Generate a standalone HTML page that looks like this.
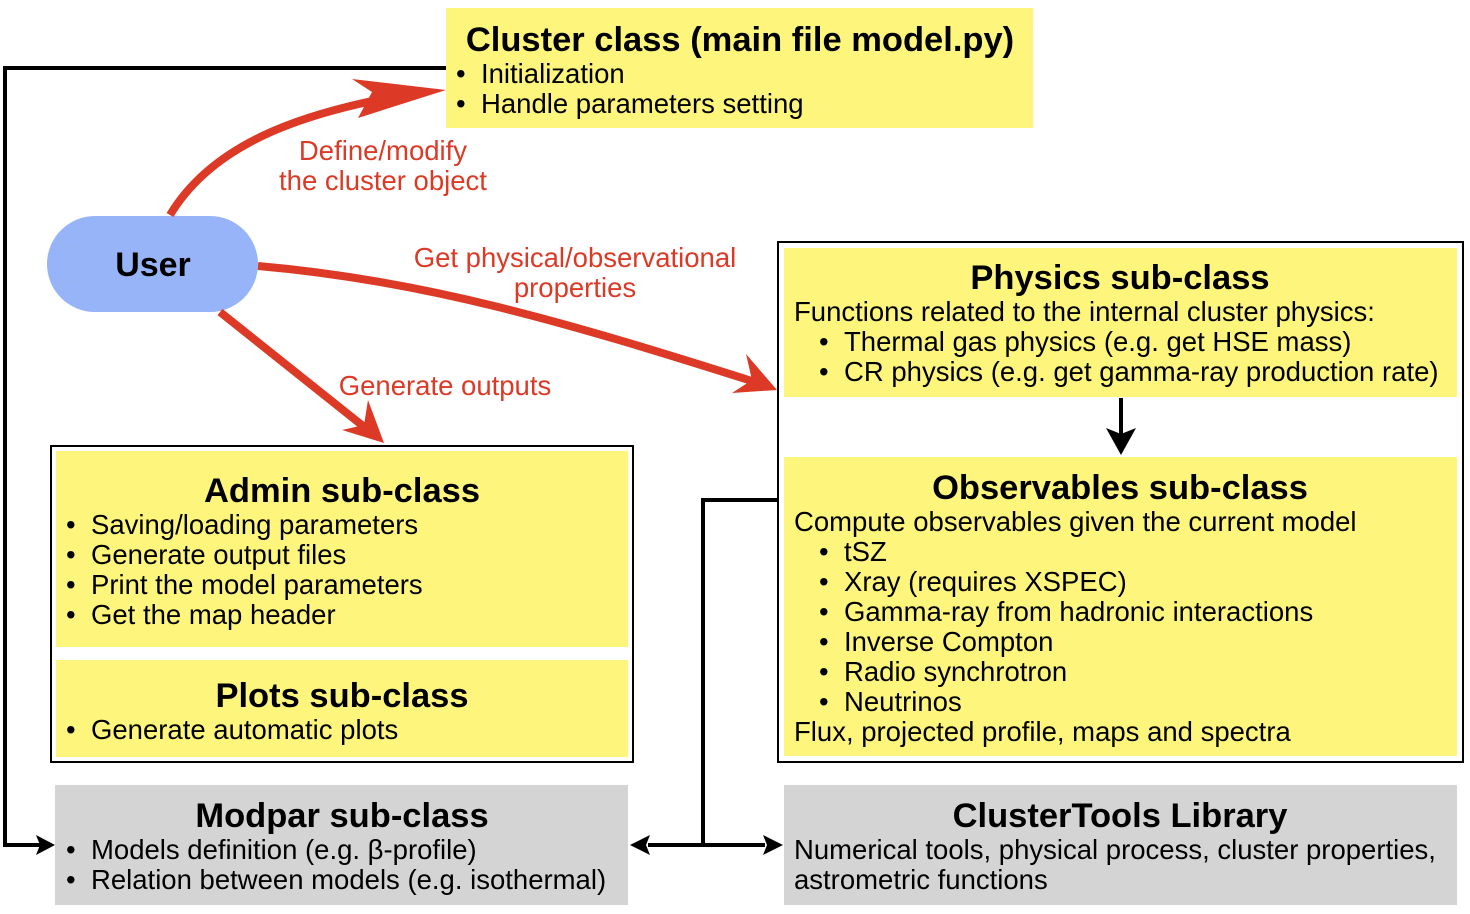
<!DOCTYPE html>
<html><head><meta charset="utf-8"><style>
html,body{margin:0;padding:0;background:#fff;}
svg{display:block;font-family:"Liberation Sans",Helvetica,Arial,sans-serif;}
.t{font-weight:bold;font-size:34.5px;fill:#000;text-anchor:middle}
.b{font-size:27.5px;fill:#000}
.r{font-size:27.5px;fill:#DC3A26;text-anchor:middle}
</style></head><body>
<svg width="1470" height="914" viewBox="0 0 1470 914">
<polyline points="446,68 5,68 5,845 40,845" fill="none" stroke="#000" stroke-width="4"/>
<polygon points="55,845 36,835 40,845 36,855" fill="#000"/>
<rect x="446" y="8" width="587" height="120" fill="#FEF67C"/>
<text class="t" x="740" y="51">Cluster class (main file model.py)</text>
<text class="b" x="456" y="83">•</text><text class="b" x="481" y="83">Initialization</text>
<text class="b" x="456" y="113">•</text><text class="b" x="481" y="113">Handle parameters setting</text>
<rect x="47" y="216" width="211" height="96" rx="48" fill="#98B4F8"/>
<text x="153" y="276" font-size="34" font-weight="bold" text-anchor="middle">User</text>
<path d="M170,215 C215,140 310,110 420,92" fill="none" stroke="#DC3A26" stroke-width="8"/>
<polygon points="446,90 352,79 372,92 358,118" fill="#DC3A26"/>
<text class="r" x="383" y="160">Define/modify</text>
<text class="r" x="383" y="190">the cluster object</text>
<path d="M258,266 C420,280 560,320 755,382" fill="none" stroke="#DC3A26" stroke-width="8"/>
<polygon points="777,390 746,354 752,380 732,393" fill="#DC3A26"/>
<text class="r" x="575" y="267">Get physical/observational</text>
<text class="r" x="575" y="297">properties</text>
<line x1="220" y1="312" x2="368" y2="430" stroke="#DC3A26" stroke-width="8"/>
<polygon points="384,443 368,400 364,425 342,430" fill="#DC3A26"/>
<text class="r" x="445" y="395">Generate outputs</text>
<rect x="51" y="446" width="582" height="316" fill="none" stroke="#000" stroke-width="2"/>
<rect x="56" y="451" width="572" height="196" fill="#FEF67C"/>
<text class="t" x="342" y="502">Admin sub-class</text>
<g class="b">
<text class="b" x="66" y="534">•</text><text class="b" x="91" y="534">Saving/loading parameters</text>
<text class="b" x="66" y="564">•</text><text class="b" x="91" y="564">Generate output files</text>
<text class="b" x="66" y="594">•</text><text class="b" x="91" y="594">Print the model parameters</text>
<text class="b" x="66" y="624">•</text><text class="b" x="91" y="624">Get the map header</text>
</g>
<rect x="56" y="660" width="572" height="97" fill="#FEF67C"/>
<text class="t" x="342" y="707">Plots sub-class</text>
<text class="b" x="66" y="739">•</text><text class="b" x="91" y="739">Generate automatic plots</text>
<rect x="778" y="242" width="685" height="520" fill="none" stroke="#000" stroke-width="2"/>
<rect x="784" y="248" width="673" height="149" fill="#FEF67C"/>
<text class="t" x="1120" y="289">Physics sub-class</text>
<text class="b" x="794" y="321">Functions related to the internal cluster physics:</text>
<text class="b" x="819" y="351">•</text><text class="b" x="844" y="351">Thermal gas physics (e.g. get HSE mass)</text>
<text class="b" x="819" y="381">•</text><text class="b" x="844" y="381">CR physics (e.g. get gamma-ray production rate)</text>
<line x1="1121" y1="398" x2="1121" y2="435" stroke="#000" stroke-width="4"/>
<polygon points="1121,455 1106,428 1121,434 1136,428" fill="#000"/>
<rect x="784" y="457" width="673" height="299" fill="#FEF67C"/>
<text class="t" x="1120" y="499">Observables sub-class</text>
<text class="b" x="794" y="531">Compute observables given the current model</text>
<text class="b" x="819" y="561">•</text><text class="b" x="844" y="561">tSZ</text>
<text class="b" x="819" y="591">•</text><text class="b" x="844" y="591">Xray (requires XSPEC)</text>
<text class="b" x="819" y="621">•</text><text class="b" x="844" y="621">Gamma-ray from hadronic interactions</text>
<text class="b" x="819" y="651">•</text><text class="b" x="844" y="651">Inverse Compton</text>
<text class="b" x="819" y="681">•</text><text class="b" x="844" y="681">Radio synchrotron</text>
<text class="b" x="819" y="711">•</text><text class="b" x="844" y="711">Neutrinos</text>
<text class="b" x="794" y="741">Flux, projected profile, maps and spectra</text>
<polyline points="778,500 703,500 703,845" fill="none" stroke="#000" stroke-width="4"/>
<line x1="648" y1="845" x2="765" y2="845" stroke="#000" stroke-width="4"/>
<polygon points="630,845 650,835 646,845 650,855" fill="#000"/>
<polygon points="783,845 763,835 767,845 763,855" fill="#000"/>
<rect x="55" y="785" width="573" height="120" fill="#D4D4D4"/>
<text class="t" x="342" y="827">Modpar sub-class</text>
<text class="b" x="66" y="859">•</text><text class="b" x="91" y="859">Models definition (e.g. β-profile)</text>
<text class="b" x="66" y="889">•</text><text class="b" x="91" y="889">Relation between models (e.g. isothermal)</text>
<rect x="784" y="785" width="673" height="120" fill="#D4D4D4"/>
<text class="t" x="1120" y="827">ClusterTools Library</text>
<text class="b" x="794" y="859">Numerical tools, physical process, cluster properties,</text>
<text class="b" x="794" y="889">astrometric functions</text>
</svg>
</body></html>
